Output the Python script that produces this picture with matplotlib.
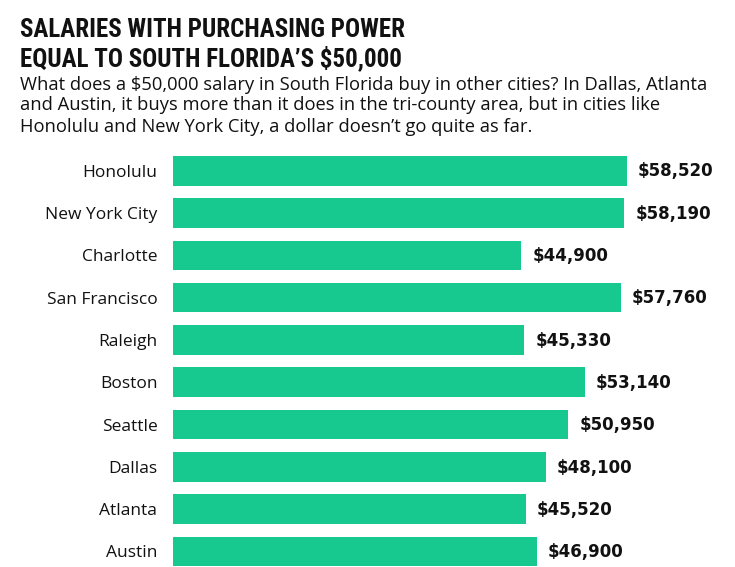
import matplotlib
matplotlib.use("Agg")
import matplotlib.pyplot as plt
from matplotlib import font_manager

# data (top to bottom)
cities = ["Honolulu", "New York City", "Charlotte", "San Francisco", "Raleigh",
          "Boston", "Seattle", "Dallas", "Atlanta", "Austin"]
salaries = [58520, 58190, 44900, 57760, 45330, 53140, 50950, 48100, 45520, 46900]

title_lines = ["SALARIES WITH PURCHASING POWER",
               "EQUAL TO SOUTH FLORIDA\u2019S $50,000"]
subtitle_lines = [
    "What does a $50,000 salary in South Florida buy in other cities? In Dallas, Atlanta",
    "and Austin, it buys more than it does in the tri-county area, but in cities like",
    "Honolulu and New York City, a dollar doesn\u2019t go quite as far.",
]

W, H = 735, 567
BAR = "#17c98f"
INK = "#111111"

# pick a narrow face for the headline if one is around
installed = {f.name for f in font_manager.fontManager.ttflist}
narrow = [n for n in ["Liberation Sans Narrow", "DejaVu Sans Condensed",
                      "Roboto Condensed", "Open Sans Condensed"] if n in installed]
if narrow:
    title_font, title_size = narrow[0], 18
else:
    title_font, title_size = "DejaVu Sans", 13.5

fig = plt.figure(figsize=(W / 100, H / 100), dpi=100)

# axes placed in pixel terms
left, right, top, bottom = 173.3, 735, 140, 567
ax = fig.add_axes([left / W, 1 - bottom / H, (right - left) / W, (bottom - top) / H])

ypos = list(range(len(cities)))
ax.barh(ypos, salaries, height=0.7, color=BAR)
ax.set_xlim(0, 72500)
ax.set_ylim(9.367, -0.728)

ax.set_yticks(ypos)
ax.set_yticklabels(cities, fontsize=12.5, family=["Open Sans", "DejaVu Sans"], color=INK)
ax.tick_params(axis="y", length=0, pad=11.5)
ax.set_xticks([])
for s in ax.spines.values():
    s.set_visible(False)

for y, v in zip(ypos, salaries):
    ax.annotate(f"${v:,}", (v, y), xytext=(8, -0.5), textcoords="offset points",
                va="center", ha="left", fontsize=12, fontweight="bold",
                family="DejaVu Sans", color=INK)

# title + subtitle
tx = 20 / W
for i, line in enumerate(title_lines):
    fig.text(tx, 1 - (37 + 29 * i) / H, line, fontsize=title_size, fontweight="bold",
             family=[title_font, "DejaVu Sans"], color=INK, va="baseline")
for i, line in enumerate(subtitle_lines):
    fig.text(tx, 1 - (89.5 + 21 * i) / H, line, fontsize=13.2,
             family=["Open Sans", "DejaVu Sans"], color=INK, va="baseline")

fig.savefig("out.png", dpi=100)
